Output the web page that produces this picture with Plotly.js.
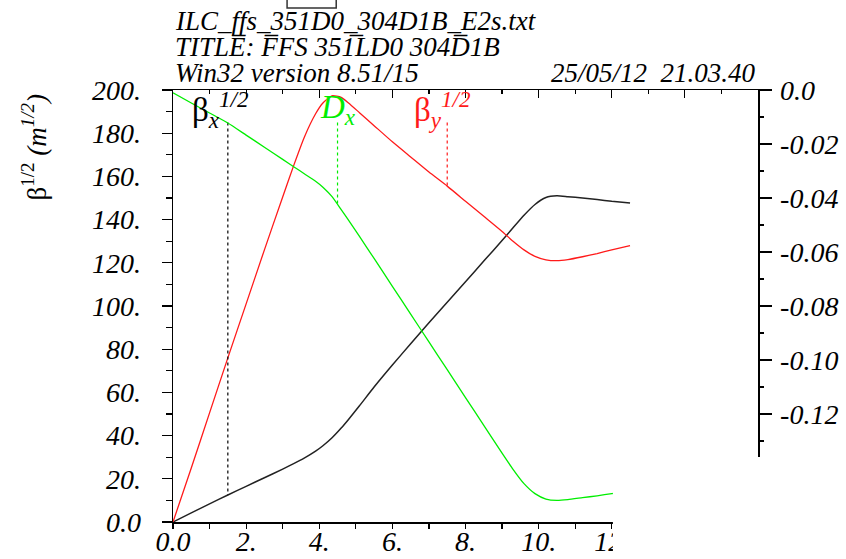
<!DOCTYPE html>
<html>
<head>
<meta charset="utf-8">
<script src="https://cdn.plot.ly/plotly-3.0.1.min.js"></script>
<style>html,body{margin:0;padding:0;background:#fff;}#chart{width:846px;height:559px;}</style>
</head>
<body>
<div id="chart"></div>
<script>
// ---- data ----
const s = [0, 0.5, 1, 1.5, 2, 2.5, 3, 3.3, 3.6, 3.9, 4.1, 4.35, 4.6, 4.8, 5.1, 5.5, 6, 6.5, 7, 7.5, 8, 8.5, 9, 9.3, 9.6, 9.9, 10.2, 10.5, 10.8, 11.2, 11.6, 12, 12.5];
const sqrtBetaX = [0, 4.2, 8.4, 12.5, 16.5, 20.5, 24.5, 27, 29.7, 32.8, 35.3, 39, 43.5, 47.5, 53.8, 62.5, 72.7, 82.5, 92.2, 101.7, 111.2, 120.8, 130.3, 136.2, 142, 147, 150.2, 151, 150.6, 150, 149.3, 148.5, 147.7];
const sqrtBetaY = [0, 25, 50.5, 76, 101, 126, 150.5, 165, 178.5, 189, 194, 197.3, 196.6, 194, 189.5, 183.5, 176, 169, 162, 155.5, 148.5, 141.5, 134.5, 130, 126, 123, 121.4, 121, 121.5, 122.8, 124.3, 126, 128];
const dispX = [-0.001, -0.0048, -0.0085, -0.0122, -0.0167, -0.0212, -0.0257, -0.0284, -0.0311, -0.0338, -0.036, -0.0395, -0.0443, -0.0482, -0.0542, -0.0624, -0.0727, -0.083, -0.0933, -0.1036, -0.1139, -0.1242, -0.1345, -0.1405, -0.1458, -0.1495, -0.1515, -0.152, -0.1517, -0.151, -0.1503, -0.1495, -0.1487];

const xTickVals = [0, 2, 4, 6, 8, 10, 12, 14, 16];
const xTickText = ['0.0', '2.', '4.', '6.', '8.', '10.', '12.', '14.', '16.'];
const yTickVals = [0, 20, 40, 60, 80, 100, 120, 140, 160, 180, 200];
const yTickText = ['0.0', '20.', '40.', '60.', '80.', '100.', '120.', '140.', '160.', '180.', '200.'];
const y2TickVals = [0, -0.02, -0.04, -0.06, -0.08, -0.10, -0.12, -0.14, -0.16];
const y2TickText = ['0.0', '-0.02', '-0.04', '-0.06', '-0.08', '-0.10', '-0.12', '-0.14', '-0.16'];

const labelS = [1.5, 4.5, 7.5];   // where the curve labels hang
const headerLines = ['ILC_ffs_351D0_304D1B_E2s.txt', 'TITLE\u0305: F\u0305FS 351\u0305LD0 304D\u03051B', 'Win32 version 8.51/15'];
const headerDate = '25/05/12  21.03.40';

// ---- helpers ----
function interp(xs, ys, x) {
  for (let i = 0; i < xs.length - 1; i++) {
    if (x >= xs[i] && x <= xs[i + 1]) {
      const t = (x - xs[i]) / (xs[i + 1] - xs[i]);
      return ys[i] + t * (ys[i + 1] - ys[i]);
    }
  }
  return ys[ys.length - 1];
}
const Y1 = [0, 200], Y2 = [-0.16, 0];
const labelTopY1 = 185;
const labelTopY2 = Y2[0] + (labelTopY1 - Y1[0]) / (Y1[1] - Y1[0]) * (Y2[1] - Y2[0]);

const serif = 'Liberation Serif, Times New Roman, serif';
const GREEN = '#00ee00', RED = '#ff1a1a', BLACK = '#222222';

const traces = [
  {x: s, y: sqrtBetaX, xaxis: 'x', yaxis: 'y', mode: 'lines', line: {color: BLACK, width: 1.5, shape: 'spline', smoothing: 0.5}, hoverinfo: 'skip'},
  {x: s, y: sqrtBetaY, xaxis: 'x', yaxis: 'y', mode: 'lines', line: {color: RED, width: 1.3, shape: 'spline', smoothing: 0.5}, hoverinfo: 'skip'},
  {x: s, y: dispX, xaxis: 'x2', yaxis: 'y2', mode: 'lines', line: {color: GREEN, width: 1.3, shape: 'spline', smoothing: 0.5}, hoverinfo: 'skip'},
  {x: [labelS[0], labelS[0]], y: [labelTopY1, interp(s, sqrtBetaX, labelS[0])], xaxis: 'x', yaxis: 'y', mode: 'lines', line: {color: '#000', width: 1.2, dash: 'dot'}, hoverinfo: 'skip'},
  {x: [labelS[1], labelS[1]], y: [labelTopY2, interp(s, dispX, labelS[1])], xaxis: 'x2', yaxis: 'y2', mode: 'lines', line: {color: GREEN, width: 1.2, dash: 'dot'}, hoverinfo: 'skip'},
  {x: [labelS[2], labelS[2]], y: [labelTopY1, interp(s, sqrtBetaY, labelS[2])], xaxis: 'x', yaxis: 'y', mode: 'lines', line: {color: RED, width: 1.2, dash: 'dot'}, hoverinfo: 'skip'}
];

const tickFont = {family: serif, size: 28, style: 'italic', color: '#000'};
const hdrFont = {family: serif, size: 27, style: 'italic', color: '#000'};
const labFont = (c) => ({family: serif, size: 33, color: c});

const layout = {
  width: 846, height: 559,
  margin: {l: 173, r: 88, t: 90, b: 37, pad: 0},
  paper_bgcolor: '#fff', plot_bgcolor: '#fff',
  showlegend: false,
  xaxis: {range: [0, 16], showgrid: false, zeroline: false, showline: true, linecolor: '#000', linewidth: 1.5,
          tickmode: 'array', tickvals: xTickVals, ticktext: xTickText, ticks: 'outside', ticklen: 5, tickwidth: 1.2, tickcolor: '#000',
          minor: {dtick: 1, ticks: 'outside', ticklen: 5, tickwidth: 1.2, tickcolor: '#000'},
          tickfont: tickFont, ticklabelstandoff: -11},
  xaxis2: {range: [0, 16], overlaying: 'x', side: 'top', showgrid: false, zeroline: false, showline: true, linecolor: '#000', linewidth: 1.5,
           tickmode: 'array', tickvals: xTickVals, showticklabels: false, ticks: 'inside', ticklen: 8, tickwidth: 1.2, tickcolor: '#000',
           minor: {dtick: 1, ticks: 'inside', ticklen: 4, tickwidth: 1.2, tickcolor: '#000'}},
  yaxis: {range: Y1, showgrid: false, zeroline: false, showline: true, linecolor: '#000', linewidth: 1.5,
          tickmode: 'array', tickvals: yTickVals, ticktext: yTickText, ticks: 'outside', ticklen: 10, tickwidth: 1.2, tickcolor: '#000',
          minor: {dtick: 10, ticks: 'outside', ticklen: 6, tickwidth: 1.2, tickcolor: '#000'},
          tickfont: tickFont, ticklabelstandoff: 15},
  yaxis2: {range: Y2, overlaying: 'y', side: 'right', anchor: 'x2', showgrid: false, zeroline: false, showline: true, linecolor: '#000', linewidth: 1.5,
           tickmode: 'array', tickvals: y2TickVals, ticktext: y2TickText, ticks: 'outside', ticklen: 12, tickwidth: 1.2, tickcolor: '#000',
           minor: {dtick: 0.01, ticks: 'outside', ticklen: 4, tickwidth: 1.2, tickcolor: '#000'},
           tickfont: tickFont, ticklabelstandoff: 3},
  shapes: [
    // white patch hiding the lower-right corner, as in the reference
    {type: 'rect', xref: 'paper', yref: 'paper', x0: 0.752, x1: 1.2, y0: -0.2, y1: 0.1505, fillcolor: '#fff', line: {width: 0}, layer: 'above'},
    // small box at the very top
    {type: 'rect', xref: 'paper', yref: 'paper', x0: 0.195, x1: 0.279, y0: 1.19, y1: 1.24, fillcolor: 'rgba(0,0,0,0)', line: {color: '#333', width: 1.5}, layer: 'above'}
  ],
  annotations: [
    {text: headerLines[0], xref: 'paper', yref: 'paper', x: 0, y: 1.160, xanchor: 'left', yanchor: 'middle', showarrow: false, font: hdrFont},
    {text: headerLines[1], xref: 'paper', yref: 'paper', x: 0, y: 1.099, xanchor: 'left', yanchor: 'middle', showarrow: false, font: hdrFont},
    {text: headerLines[2], xref: 'paper', yref: 'paper', x: 0, y: 1.039, xanchor: 'left', yanchor: 'middle', showarrow: false, font: hdrFont},
    {text: headerDate, xref: 'paper', yref: 'paper', x: 1, y: 1.039, xanchor: 'right', yanchor: 'middle', showarrow: false, font: hdrFont},
    {text: 'β<sup>1/2</sup> <i>(m<sup>1/2</sup>)</i>', xref: 'paper', yref: 'paper', x: -0.237, y: 0.868, xanchor: 'center', yanchor: 'middle', textangle: -90, showarrow: false, font: {family: serif, size: 27, color: '#000'}},
    {text: 'β<sub><i>x</i></sub><sup><i>1/2</i></sup>', xref: 'x', yref: 'y', x: labelS[0], y: 191, xanchor: 'left', xshift: -38, yanchor: 'middle', showarrow: false, font: labFont('#000')},
    {text: '<i>D<sub>x</sub></i>', xref: 'x', yref: 'y', x: labelS[1], y: 191, xanchor: 'left', xshift: -20, yanchor: 'middle', showarrow: false, font: labFont(GREEN)},
    {text: 'β<sub><i>y</i></sub><sup><i>1/2</i></sup>', xref: 'x', yref: 'y', x: labelS[2], y: 191, xanchor: 'left', xshift: -35, yanchor: 'middle', showarrow: false, font: labFont(RED)}
  ]
};

Plotly.newPlot('chart', traces, layout, {staticPlot: true, displayModeBar: false});
</script>
</body>
</html>
